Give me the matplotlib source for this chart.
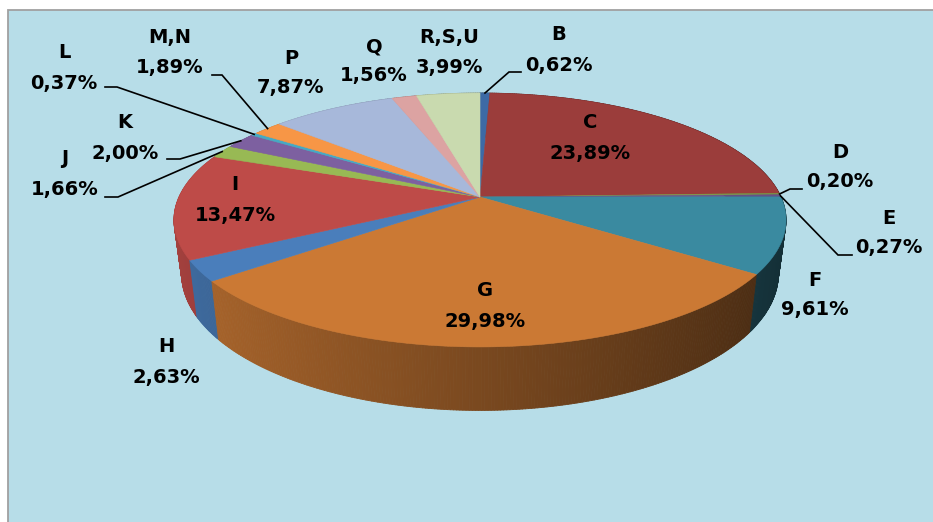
import numpy as np
import matplotlib
matplotlib.use("Agg")
import matplotlib.pyplot as plt
from matplotlib.patches import Rectangle, Polygon
from matplotlib.collections import PolyCollection
from matplotlib.colors import to_rgb

# ---------------- data ----------------
categories = ['B', 'C', 'D', 'E', 'F', 'G', 'H', 'I', 'J', 'K', 'L', 'M,N', 'P', 'Q', 'R,S,U']
shares = [0.62, 23.89, 0.20, 0.27, 9.61, 29.98, 2.63, 13.47, 1.66, 2.00, 0.37, 1.89, 7.87, 1.56, 3.99]
slice_colors = ['#3d6aa5', '#9b3d3b', '#7d9a48', '#66508a', '#3a8aa0', '#cb7934',
                '#4a7ebb', '#be4b48', '#98b954', '#7d60a0', '#46aac4', '#f79646',
                '#a7b8da', '#dca3a2', '#c9daaf']

# ---------------- layout (pixels) ----------------
W, H = 933, 522
CX, CY = 480, 197          # pie centre on screen
RA, RB, PERSP = 301, 122.8, 0.181
DEPTH, SHRINK = 52, 0.975
BG = '#b7dde8'

# label positions: x, y of name line, y of value line
label_pos = {
    'B': (559, 35, 65), 'C': (590, 123, 153), 'D': (840, 152, 182),
    'E': (889, 218, 248), 'F': (815, 280, 310), 'G': (485, 290, 321),
    'H': (166, 347, 378), 'I': (235, 185, 215), 'J': (65, 159, 190),
    'K': (125, 123, 153), 'L': (64, 53, 83), 'M,N': (170, 38, 68),
    'P': (291, 58, 88), 'Q': (374, 47, 76), 'R,S,U': (449, 37, 68),
}
# leader lines: start of horizontal tick near the label, elbow x
leaders = {
    'B': (521, 72, 509), 'D': (802, 189, 790), 'E': (852, 255, 838),
    'J': (105, 197, 118), 'K': (167, 159, 180), 'L': (105, 87, 117),
    'M,N': (212, 75, 222),
}


def top_pt(th):
    c, s = np.cos(th), np.sin(th)
    f = 1.0 / (1.0 + PERSP * c)
    return CX + RA * s * f, CY - RB * c * f


def bot_pt(th):
    x, y = top_pt(th)
    f = 1.0 / (1.0 + PERSP * np.cos(th))
    return CX + (x - CX) * SHRINK, y + DEPTH * f


def shade(color, th):
    fac = np.clip(0.60 - 0.27 * np.sin(th), 0.3, 0.9)
    r, g, b = to_rgb(color)
    return (r * fac, g * fac, b * fac)


fig = plt.figure(figsize=(W / 100, H / 100), dpi=100, facecolor='white')
ax = fig.add_axes([0, 0, 1, 1])
ax.set_xlim(0, W)
ax.set_ylim(H, 0)
ax.axis('off')

ax.add_patch(Rectangle((8, 10), W + 10, H + 10, facecolor=BG,
                       edgecolor='#a0a0a0', linewidth=1.3, zorder=0))

vals = np.array(shares, dtype=float)
bounds = np.concatenate([[0], np.cumsum(vals / vals.sum())]) * 2 * np.pi

# ---- side wall ----
strips = []
for i, col in enumerate(slice_colors):
    a0, a1 = bounds[i], bounds[i + 1]
    n = max(2, int(np.degrees(a1 - a0) / 0.5) + 1)
    ts = np.linspace(a0, a1, n)
    for t0, t1 in zip(ts[:-1], ts[1:]):
        tm = 0.5 * (t0 + t1)
        quad = [top_pt(t0), top_pt(t1), bot_pt(t1), bot_pt(t0)]
        strips.append((-np.cos(tm), quad, shade(col, tm)))
strips.sort(key=lambda s: s[0])
pc = PolyCollection([s[1] for s in strips], facecolors=[s[2] for s in strips],
                    edgecolors=[s[2] for s in strips], linewidths=0.6, zorder=2)
ax.add_collection(pc)

# ---- top face ----
for i, col in enumerate(slice_colors):
    a0, a1 = bounds[i], bounds[i + 1]
    n = max(3, int(np.degrees(a1 - a0) / 0.5) + 2)
    ts = np.linspace(a0, a1, n)
    pts = [(CX, CY)] + [top_pt(t) for t in ts]
    ax.add_patch(Polygon(pts, closed=True, facecolor=col, edgecolor=col,
                         linewidth=0.4, zorder=3))

# ---- labels ----
font = dict(family='DejaVu Sans', fontweight='bold', fontsize=14, color='black')
for i, cat in enumerate(categories):
    x, yn, yv = label_pos[cat]
    ax.text(x, yn, cat, ha='center', va='center', zorder=5, **font)
    ax.text(x, yv, f"{shares[i]:.2f}%".replace('.', ','), ha='center',
            va='center', zorder=5, **font)

# ---- leader lines ----
for i, cat in enumerate(categories):
    if cat in leaders:
        sx, sy, ex = leaders[cat]
        tm = 0.5 * (bounds[i] + bounds[i + 1])
        px, py = top_pt(tm)
        ax.plot([sx, ex, px], [sy, sy, py], color='black', lw=1.2, zorder=4,
                solid_joinstyle='miter')

fig.savefig('out.png', dpi=100, facecolor='white')
